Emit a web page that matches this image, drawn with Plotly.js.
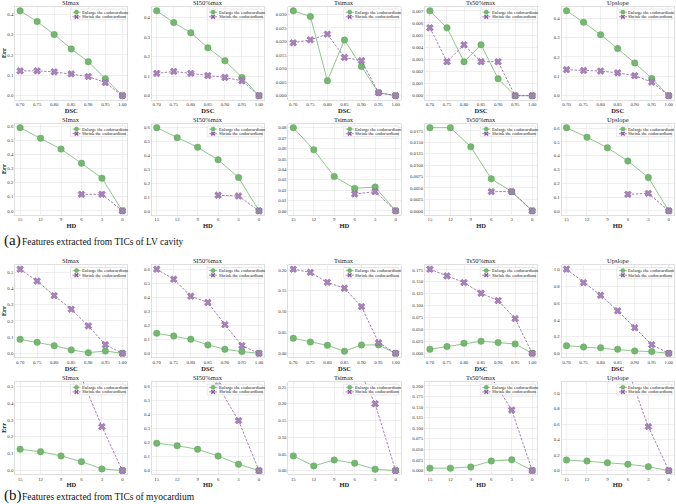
<!DOCTYPE html>
<html><head><meta charset="utf-8">
<script src="https://cdn.plot.ly/plotly-3.0.1.min.js"></script>
<style>html,body{margin:0;padding:0;background:#fff;}#chart{width:676px;height:504px;}</style>
</head><body><div id="chart"></div>
<script>
// ---------------- DATA ----------------
const panelTitles = ['SImax','SI50%max','Tsimax','Ts50%max','Upslope'];
const seriesNames = ['Enlarge the endocardium','Shrink the endocardium'];
const dscValues = [0.70,0.75,0.80,0.85,0.90,0.95,1.00];
const dscTickLabels = ['0.70','0.75','0.80','0.85','0.90','0.95','1.00'];
const hdValues = [15,12,9,6,3,0];
const hdTickLabels = ['15','12','9','6','3','0'];

// (a) LV cavity, DSC
const lvDscEnlarge = [
  [0.417,0.364,0.301,0.230,0.167,0.083,0],
  [0.434,0.374,0.322,0.245,0.179,0.093,0],
  [0.0313,0.0292,0.0055,0.0205,0.0108,0.0011,0],
  [0.0070,0.0056,0.0028,0.0042,0.0014,0,0],
  [0.438,0.379,0.315,0.243,0.169,0.089,0]
];
const lvDscShrink = [
  [0.122,0.122,0.117,0.107,0.094,0.064,0],
  [0.114,0.124,0.114,0.103,0.093,0.076,0],
  [0.0195,0.0206,0.0227,0.0141,0.0129,0.0011,0],
  [0.0056,0.0028,0.0042,0.0028,0.0028,0,0],
  [0.134,0.130,0.127,0.118,0.103,0.070,0]
];
// (a) LV cavity, HD
const lvHdEnlarge = [
  [0.593,0.518,0.440,0.339,0.233,0],
  [0.598,0.526,0.457,0.367,0.240,0],
  [0.080,0.0587,0.033,0.0216,0.0229,0],
  [0.0182,0.0182,0.0140,0.0070,0.0042,0],
  [0.604,0.535,0.458,0.362,0.242,0]
];
const lvHdShrink = [
  [null,null,null,0.118,0.118,0],
  [null,null,null,0.112,0.107,0],
  [null,null,null,0.0162,0.0184,0],
  [null,null,null,0.0042,0.0042,0],
  [null,null,null,0.120,0.127,0]
];
// (b) myocardium, DSC
const myoDscEnlarge = [
  [0.086,0.068,0.047,0.021,0.004,0.014,0],
  [0.144,0.125,0.101,0.060,0.029,0.012,0],
  [0.036,0.027,0.019,0.005,0.020,0.020,0],
  [0.0084,0.0140,0.0210,0.0252,0.0224,0.0196,0],
  [0.091,0.075,0.067,0.048,0.028,0.020,0]
];
const myoDscShrink = [
  [0.519,0.446,0.356,0.272,0.169,0.053,0],
  [0.604,0.532,0.410,0.365,0.206,0.055,0],
  [0.2016,0.194,0.170,0.156,0.112,0.0256,0],
  [0.1764,0.1624,0.1484,0.1260,0.1106,0.0728,0],
  [1.005,0.845,0.694,0.508,0.306,0.103,0]
];
// (b) myocardium, HD
const myoHdEnlarge = [
  [0.126,0.112,0.087,0.053,0.010,0],
  [0.194,0.177,0.151,0.104,0.045,0],
  [0.044,0.014,0.032,0.022,0.004,0],
  [0.0056,0.0056,0.0084,0.0224,0.0252,0],
  [0.138,0.125,0.103,0.082,0.052,0]
];
const myoHdShrink = [
  [null,null,null,0.55,0.26,0],
  [null,null,null,0.60,0.355,0],
  [null,null,null,0.33,0.20,0],
  [null,null,null,0.22,0.143,0],
  [null,null,null,1.30,0.569,0]
];
const sectionLetters = ['(a)','(b)'];
const sectionTexts = ['Features extracted from TICs of LV cavity','Features extracted from TICs of myocardium'];

// ---------------- LAYOUT / STYLE ----------------
const W = 676, H = 504;
const FONT = '"Liberation Serif", "Times New Roman", Times, serif';
const GREEN = '#74b870', GREEN_EDGE = '#5c9f58';
const PURPLE = '#8b5f9f', PURPLE_FILL = '#a783b9';
const colLeft = [15, 151.6, 288.2, 424.8, 561.4];
const colW = 112.5;
const rowTop = [6.6, 123.5, 265, 381.7];
const rowBot = [99.9, 215, 357.5, 474.3];

const rows = [
  {x: dscValues, xt: dscTickLabels, enl: lvDscEnlarge, shr: lvDscShrink, hd: false,
   dtick: [0.1,0.1,0.005,0.001,0.1], fmt: ['.1f','.1f','.3f','.3f','.1f']},
  {x: hdValues, xt: hdTickLabels, enl: lvHdEnlarge, shr: lvHdShrink, hd: true,
   dtick: [0.1,0.1,0.01,0.0025,0.1], fmt: ['.1f','.1f','.2f','.4f','.1f']},
  {x: dscValues, xt: dscTickLabels, enl: myoDscEnlarge, shr: myoDscShrink, hd: false,
   dtick: [0.1,0.1,0.05,0.025,0.2], fmt: ['.1f','.1f','.2f','.3f','.1f']},
  {x: hdValues, xt: hdTickLabels, enl: myoHdEnlarge, shr: myoHdShrink, hd: true,
   dtick: [0.1,0.1,0.05,0.025,0.2], fmt: ['.1f','.1f','.2f','.3f','.1f'],
   ranges: [[-0.022,0.526],[-0.026,0.631],[-0.011,0.266],[-0.009,0.21],[-0.047,1.15]]}
];

const traces = [];
const layout = {
  width: W, height: H, margin: {l:0, r:0, t:0, b:0},
  paper_bgcolor: '#ffffff', plot_bgcolor: '#ffffff',
  showlegend: false, font: {family: FONT, color: '#222'},
  annotations: [], shapes: []
};

function autoRange(a, b) {
  const v = a.concat(b).filter(d => d !== null);
  const lo = Math.min(...v), hi = Math.max(...v), span = hi - lo;
  return [lo - 0.05*span, hi + 0.05*span];
}

rows.forEach((row, r) => {
  for (let c = 0; c < 5; c++) {
    const idx = r*5 + c + 1;
    const s = idx === 1 ? '' : String(idx);
    const xd = [colLeft[c]/W, (colLeft[c]+colW)/W];
    const yd = [1 - rowBot[r]/H, 1 - rowTop[r]/H];
    const xr = row.hd ? [15.75, -0.75] : [0.685, 1.015];
    const yr = row.ranges ? row.ranges[c] : autoRange(row.enl[c], row.shr[c]);
    const axCommon = {
      showgrid: true, gridcolor: '#e4e4e4', gridwidth: 0.6,
      showline: true, mirror: true, linecolor: '#d2d2d2', linewidth: 0.7,
      zeroline: false, ticks: '', automargin: false, fixedrange: true,
      tickfont: {size: 4.8, family: FONT, color: '#333'}
    };
    layout['xaxis' + s] = Object.assign({}, axCommon, {
      domain: xd, anchor: 'y' + s, range: xr, autorange: false,
      tickmode: 'array', tickvals: row.x, ticktext: row.xt,
      title: {text: row.hd ? 'HD' : 'DSC', font: {size: 6.5, family: FONT, weight: 'bold', color: '#222'}, standoff: 1}
    });
    layout['yaxis' + s] = Object.assign({}, axCommon, {
      domain: yd, anchor: 'x' + s, range: yr, autorange: false,
      tick0: 0, dtick: row.dtick[c], tickformat: row.fmt[c],
      title: c === 0 ? {text: 'Err', font: {size: 6.5, family: FONT, weight: 'bold', color: '#222'}, standoff: 2} : {text: ''}
    });

    traces.push({
      type: 'scatter', mode: 'lines+markers', name: seriesNames[0],
      x: row.x, y: row.enl[c], xaxis: 'x' + s, yaxis: 'y' + s,
      line: {color: GREEN, width: 0.8},
      marker: {symbol: 'circle', size: 6.5, color: GREEN, line: {color: GREEN_EDGE, width: 0.4}}
    });
    traces.push({
      type: 'scatter', mode: 'lines+markers', name: seriesNames[1],
      x: row.x, y: row.shr[c], xaxis: 'x' + s, yaxis: 'y' + s,
      line: {color: PURPLE, width: 0.8, dash: '2.5px,1.5px'},
      marker: {symbol: 'x', size: 6, color: PURPLE_FILL, line: {color: PURPLE, width: 0.6}}
    });

    // panel title
    layout.annotations.push({
      xref: 'x' + s + ' domain', yref: 'y' + s + ' domain', x: 0.5, y: 1,
      xanchor: 'center', yanchor: 'bottom', yshift: -1, showarrow: false,
      text: panelTitles[c], font: {size: 6.5, family: FONT, color: '#222'}
    });

    // legend box (upper right)
    const base = {xref: 'x' + s + ' domain', yref: 'y' + s + ' domain',
      xsizemode: 'pixel', ysizemode: 'pixel', xanchor: 1, yanchor: 1, layer: 'above'};
    layout.shapes.push(Object.assign({}, base, {type: 'rect', x0: -57, x1: -2, y0: -2.5, y1: -13.2,
      fillcolor: 'rgba(255,255,255,0.85)', line: {color: '#d6d6d6', width: 0.6}}));
    layout.shapes.push(Object.assign({}, base, {type: 'line', x0: -55, x1: -47, y0: -5.6, y1: -5.6,
      line: {color: GREEN, width: 0.8}}));
    layout.shapes.push(Object.assign({}, base, {type: 'circle', x0: -53.1, x1: -48.9, y0: -3.5, y1: -7.7,
      fillcolor: GREEN, line: {color: GREEN_EDGE, width: 0.4}}));
    layout.shapes.push(Object.assign({}, base, {type: 'line', x0: -55, x1: -47, y0: -10.2, y1: -10.2,
      line: {color: PURPLE, width: 0.8, dash: 'dot'}}));
    layout.shapes.push(Object.assign({}, base, {type: 'line', x0: -52.8, x1: -49.2, y0: -8.4, y1: -12.0,
      line: {color: PURPLE, width: 1.5}}));
    layout.shapes.push(Object.assign({}, base, {type: 'line', x0: -52.8, x1: -49.2, y0: -12.0, y1: -8.4,
      line: {color: PURPLE, width: 1.5}}));
    seriesNames.forEach((nm, k) => {
      layout.annotations.push({
        xref: 'x' + s + ' domain', yref: 'y' + s + ' domain', x: 1, y: 1,
        xanchor: 'left', yanchor: 'middle', xshift: -46.5, yshift: k === 0 ? -5.6 : -10.2,
        showarrow: false, borderpad: 0, text: nm, font: {size: 4.6, family: FONT, color: '#222'}
      });
    });
  }
});

// section captions
const captionY = [240, 495];
sectionLetters.forEach((t, i) => {
  layout.annotations.push({xref: 'paper', yref: 'paper', x: 2/W, y: 1 - captionY[i]/H,
    xanchor: 'left', yanchor: 'middle', showarrow: false, text: t,
    font: {size: 15, family: FONT, color: '#111'}});
  layout.annotations.push({xref: 'paper', yref: 'paper', x: 20/W, y: 1 - (captionY[i]+1.5)/H,
    xanchor: 'left', yanchor: 'middle', showarrow: false, text: sectionTexts[i],
    font: {size: 9.5, family: FONT, color: '#111'}});
});

Plotly.newPlot('chart', traces, layout, {staticPlot: true, displayModeBar: false});
</script>
</body></html>
